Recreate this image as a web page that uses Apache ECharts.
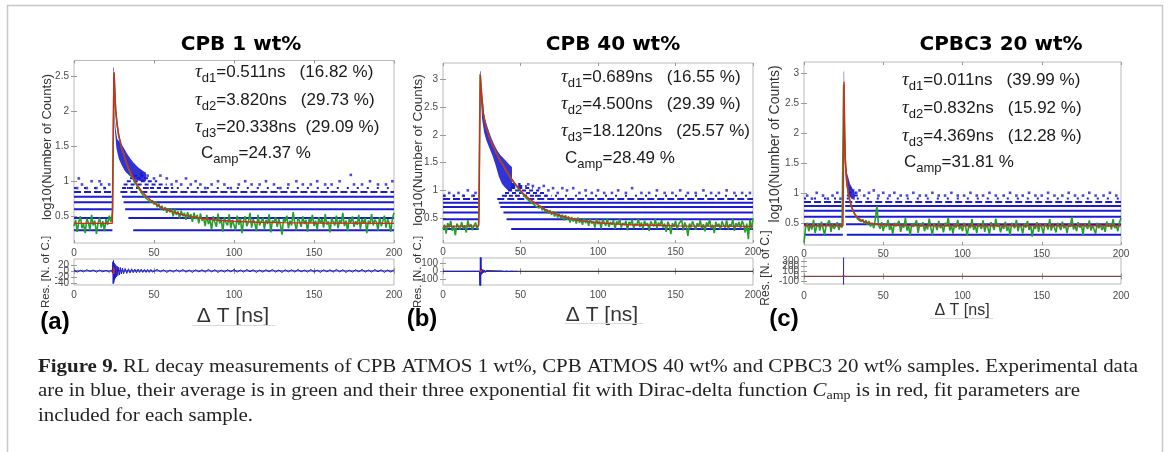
<!DOCTYPE html>
<html><head><meta charset="utf-8">
<script src="https://cdn.jsdelivr.net/npm/echarts@6/dist/echarts.min.js"></script>
<style>html,body{margin:0;padding:0;background:#fff}#c{width:1170px;height:452px}</style>
</head><body><div id="c"></div>
<script>
// ---------------- DATA ----------------
const xTicks = [0, 50, 100, 150, 200];
const yTicksA = [0.5, 1, 1.5, 2, 2.5];
const yTicksB = [0.5, 1, 1.5, 2, 2.5, 3];
const yTicksC = [0.5, 1, 1.5, 2, 2.5, 3];
const resTicksA = [-40, -20, 0, 20];
const resTicksB = [-100, 0, 100];
const resTicksC = [-100, 0, 100, 200, 300];

const titles = ['CPB 1 wt%', 'CPB 40 wt%', 'CPBC3 20 wt%'];
const panelTags = ['(a)', '(b)', '(c)'];
const tauA = ['0.511', '3.820', '20.338'], pctA = ['16.82', '29.73', '29.09'], campA = '24.37';
const tauB = ['0.689', '4.500', '18.120'], pctB = ['16.55', '29.39', '25.57'], campB = '28.49';
const tauC = ['0.011', '0.832', '4.369'], pctC = ['39.99', '15.92', '12.28'], campC = '31.81';

// green: average, one value per ns (0..200)
const greenA = [
0.36,0.45,0.28,0.42,0.50,0.33,0.39,0.26,0.47,0.41,
0.30,0.52,0.37,0.44,0.25,0.40,0.48,0.34,0.43,0.29,
0.46,0.38,0.51,0.42,0.55,2.55,2.02,1.80,1.64,1.56,
1.45,1.40,1.31,1.25,1.18,1.13,1.07,1.03,0.98,0.95,
0.91,0.88,0.84,0.83,0.78,0.80,0.74,0.76,0.70,0.73,
0.67,0.71,0.63,0.68,0.60,0.65,0.58,0.63,0.55,0.61,
0.56,0.61,0.50,0.60,0.52,0.57,0.47,0.58,0.50,0.55,
0.45,0.56,0.48,0.53,0.42,0.55,0.46,0.52,0.40,0.54,
0.44,0.47,0.36,0.52,0.39,0.45,0.31,0.50,0.42,0.35,
0.54,0.40,0.46,0.28,0.49,0.41,0.37,0.53,0.33,0.45,
0.43,0.30,0.51,0.38,0.47,0.26,0.44,0.50,0.36,0.42,
0.55,0.34,0.46,0.40,0.29,0.52,0.37,0.43,0.48,0.32,
0.45,0.39,0.53,0.27,0.44,0.41,0.49,0.35,0.46,0.38,
0.24,0.47,0.42,0.51,0.33,0.44,0.37,0.56,0.40,0.30,
0.48,0.43,0.35,0.50,0.39,0.45,0.28,0.47,0.41,0.52,
0.36,0.44,0.31,0.49,0.40,0.46,0.34,0.53,0.38,0.43,
0.27,0.48,0.42,0.37,0.51,0.33,0.45,0.40,0.55,0.36,
0.44,0.29,0.47,0.41,0.50,0.35,0.43,0.38,0.52,0.32,
0.46,0.40,0.48,0.26,0.44,0.39,0.53,0.37,0.45,0.42,
0.30,0.49,0.36,0.43,0.51,0.34,0.46,0.40,0.28,0.47,
0.55];
const greenB = [
0.30,0.38,0.22,0.41,0.33,0.45,0.27,0.36,0.19,0.40,
0.34,0.29,0.43,0.31,0.37,0.24,0.46,0.33,0.39,0.28,
0.36,0.42,0.30,0.38,3.10,2.72,2.40,2.25,2.12,2.04,
1.95,1.89,1.81,1.77,1.69,1.65,1.58,1.55,1.49,1.45,
1.39,1.36,1.30,1.27,1.21,1.19,1.13,1.11,1.05,1.04,
0.98,0.97,0.92,0.91,0.85,0.86,0.80,0.81,0.76,0.77,
0.71,0.74,0.68,0.72,0.64,0.69,0.61,0.66,0.58,0.64,
0.56,0.62,0.53,0.60,0.51,0.58,0.49,0.56,0.46,0.55,
0.47,0.53,0.42,0.52,0.44,0.50,0.40,0.51,0.42,0.47,
0.38,0.50,0.41,0.47,0.36,0.49,0.40,0.44,0.33,0.48,
0.39,0.45,0.31,0.47,0.42,0.36,0.50,0.34,0.43,0.38,
0.46,0.30,0.44,0.39,0.48,0.33,0.41,0.37,0.45,0.28,
0.43,0.38,0.47,0.32,0.40,0.36,0.49,0.34,0.42,0.30,
0.45,0.37,0.41,0.27,0.44,0.39,0.35,0.48,0.31,0.42,
0.36,0.46,0.33,0.40,0.25,0.43,0.38,0.21,0.41,0.34,
0.45,0.30,0.39,0.36,0.47,0.28,0.42,0.35,0.18,0.40,
0.33,0.44,0.37,0.29,0.41,0.35,0.46,0.31,0.39,0.26,
0.42,0.36,0.47,0.32,0.38,0.23,0.43,0.35,0.40,0.29,
0.44,0.37,0.33,0.46,0.30,0.39,0.35,0.48,0.27,0.41,
0.36,0.43,0.31,0.45,0.38,0.24,0.40,0.12,0.47,0.29,
0.50];
const greenC = [
0.17,0.42,0.50,0.36,0.47,0.39,0.55,0.33,0.44,0.49,
0.37,0.52,0.41,0.30,0.46,0.43,0.54,0.35,0.48,0.40,
0.45,0.51,0.38,0.47,0.42,2.80,1.55,1.18,0.98,0.86,
0.76,0.70,0.64,0.62,0.56,0.58,0.52,0.56,0.49,0.54,
0.47,0.53,0.44,0.50,0.41,0.56,0.78,0.46,0.40,0.51,
0.36,0.48,0.43,0.55,0.38,0.46,0.31,0.50,0.44,0.41,
0.53,0.35,0.47,0.42,0.58,0.37,0.45,0.29,0.49,0.43,
0.40,0.54,0.33,0.48,0.44,0.51,0.36,0.46,0.39,0.57,
0.42,0.30,0.49,0.45,0.38,0.53,0.41,0.47,0.34,0.50,
0.44,0.59,0.37,0.46,0.32,0.48,0.42,0.55,0.39,0.45,
0.36,0.50,0.43,0.28,0.47,0.41,0.56,0.38,0.46,0.33,
0.49,0.44,0.40,0.54,0.35,0.47,0.42,0.31,0.51,0.45,
0.38,0.57,0.43,0.48,0.34,0.46,0.40,0.52,0.37,0.44,
0.29,0.50,0.45,0.41,0.55,0.36,0.47,0.43,0.32,0.49,
0.42,0.53,0.38,0.46,0.27,0.44,0.40,0.51,0.35,0.48,
0.43,0.31,0.49,0.45,0.39,0.56,0.37,0.47,0.42,0.34,
0.50,0.44,0.38,0.52,0.41,0.46,0.33,0.48,0.43,0.60,
0.39,0.45,0.36,0.51,0.42,0.47,0.30,0.49,0.44,0.40,
0.54,0.37,0.46,0.43,0.32,0.50,0.41,0.47,0.38,0.45,
0.35,0.52,0.43,0.48,0.39,0.56,0.41,0.46,0.36,0.50,
0.58];

// red: three-exponential fit, read at [ns, value]
const redA = [[0,0.40],[23.9,0.40],[24.2,0.7],[24.6,1.8],[24.9,2.45],[25.1,2.55],[25.4,2.35],[25.8,2.12],[26.3,1.95],[27,1.80],[28,1.65],[29,1.55],[30,1.46],[31,1.39],[32,1.32],[33,1.26],[34,1.20],[35,1.15],[36,1.10],[38,1.01],[40,0.93],[42,0.87],[45,0.79],[48,0.73],[50,0.69],[55,0.62],[60,0.575],[65,0.54],[70,0.51],[80,0.47],[90,0.445],[100,0.43],[115,0.415],[130,0.41],[150,0.405],[200,0.40]];
const redB = [[0,0.35],[22.9,0.36],[23.3,0.6],[23.7,2.0],[24.1,3.08],[24.5,2.85],[25,2.68],[26,2.40],[27,2.23],[28,2.12],[29,2.03],[30,1.95],[31,1.88],[32,1.82],[34,1.70],[36,1.59],[38,1.49],[40,1.40],[42,1.31],[44,1.22],[46,1.14],[48,1.07],[50,1.00],[53,0.91],[56,0.84],[60,0.76],[65,0.67],[70,0.60],[75,0.55],[80,0.51],[85,0.475],[90,0.45],[100,0.415],[110,0.395],[120,0.38],[135,0.37],[150,0.36],[170,0.355],[200,0.35]];
const redC = [[0,0.45],[24.6,0.45],[24.9,1.2],[25.1,2.4],[25.25,2.85],[25.45,2.45],[25.7,1.95],[26,1.62],[26.4,1.40],[27,1.22],[27.6,1.07],[28.3,0.95],[29,0.86],[30,0.77],[31,0.70],[32.5,0.63],[34,0.585],[36,0.545],[38,0.52],[41,0.495],[45,0.475],[50,0.465],[60,0.455],[80,0.45],[200,0.45]];

// blue: quantised counts (log10 of 2..7), dense runs [from, to, level]
const solidA = [[0,24,0.301],[0,24,0.477],[0,24,0.602],[0,24,0.699],[0,24,0.778],[37,200,0.301],[34,200,0.477],[32,200,0.602],[31,200,0.699],[30,200,0.778]];
const dashA = [[0,24,0.845],[29,200,0.845]];
const sparseA = [[0,24,0.903],[33,200,0.903]];
const highA = [[30,62,0.903],[31,58,0.954],[33,52,1.0],[35,47,1.041],[37,44,1.079]];
const solidB = [[0,23,0.301],[0,23,0.477],[0,23,0.602],[0,23,0.699],[0,23,0.778],[44,200,0.301],[41,200,0.477],[39,200,0.602],[37,200,0.699],[36,200,0.778]];
const dashB = [[0,23,0.845],[35,200,0.845]];
const sparseB = [[0,23,0.903],[40,200,0.903]];
const highB = [[38,70,0.903],[40,66,0.954],[42,62,1.0],[44,58,1.041],[44,54,1.079],[44,50,1.114]];
const solidC = [[0,24.5,0.301],[0,24.5,0.477],[0,24.5,0.602],[0,24.5,0.699],[0,24.5,0.778],[27,200,0.301],[26.5,200,0.477],[26,200,0.602],[26,200,0.699],[26,200,0.778]];
const dashC = [[0,24.5,0.845],[26,200,0.845]];
const sparseC = [[0,24.5,0.903],[27,200,0.903]];
const highC = [[27,36,0.954],[27.5,33,1.0]];

// blue: isolated high counts [ns, value]
const dotsA = [[2,0.903],[5,0.954],[8,0.903],[11,1.0],[14,0.903],[17,0.954],[19,0.903],[22,0.954],[3,1.04],[16,1.0],[42,1.11],[46,1.08],[50,1.04],[54,1.08],[58,1.04],[61,0.954],[64,1.0],[67,0.954],[70,1.04],[73,0.954],[76,1.0],[79,0.954],[82,0.903],[86,0.954],[90,1.0],[94,0.954],[98,0.903],[103,0.954],[107,1.0],[111,0.954],[116,0.954],[120,1.0],[125,0.954],[129,0.903],[134,0.954],[139,1.0],[143,0.954],[148,0.954],[152,1.0],[157,0.954],[161,0.954],[166,1.0],[173,1.09],[175,0.954],[180,0.954],[185,1.0],[190,0.954],[195,0.954],[199,1.0]];
const dotsB = [[1,0.903],[4,0.954],[7,0.903],[10,0.954],[13,0.903],[16,1.0],[19,0.903],[21,0.954],[55,1.11],[58,1.08],[62,1.04],[65,1.08],[68,1.0],[71,1.04],[74,0.954],[77,1.04],[80,1.0],[84,1.04],[88,0.954],[92,1.0],[96,0.954],[100,1.0],[104,0.954],[109,0.954],[113,1.0],[118,0.954],[122,1.04],[128,0.954],[133,0.954],[138,1.0],[143,0.954],[148,0.954],[153,1.0],[158,0.954],[163,0.954],[168,1.0],[173,0.954],[178,0.954],[183,1.0],[188,0.954],[193,0.954],[198,0.954]];
const dotsC = [[2,0.954],[5,0.903],[8,1.0],[12,0.954],[15,0.903],[18,0.954],[21,1.0],[23,0.903],[29,1.08],[31,1.04],[33,1.0],[35,1.04],[38,0.954],[41,1.0],[44,1.04],[47,0.954],[50,1.0],[54,0.954],[57,1.0],[61,0.954],[65,0.954],[69,1.0],[73,0.954],[77,0.954],[81,1.0],[85,0.954],[89,0.954],[93,1.0],[97,0.954],[101,0.954],[105,1.0],[109,0.954],[113,0.954],[117,1.0],[121,0.954],[126,0.954],[130,1.0],[134,0.954],[138,0.954],[142,1.0],[146,0.954],[150,0.954],[154,1.0],[158,0.954],[163,0.954],[167,1.0],[171,0.954],[176,0.954],[180,1.0],[184,0.954],[189,0.954],[193,1.0],[197,0.954]];

// blue: outline of the dense cloud just after the peak [ns, value]
const cloudA = [[24.6,2.62],[25.0,2.62],[25.3,2.0],[26,1.75],[27,1.6],[29,1.55],[31,1.48],[33,1.40],[35,1.33],[37,1.27],[40,1.20],[43,1.15],[45,1.12],[45,1.0],[42,1.0],[38,1.02],[35,1.07],[32,1.14],[30,1.22],[28,1.32],[26.5,1.47],[25.5,1.75],[24.8,2.3]];
const cloudB = [[23.9,3.15],[24.3,3.15],[24.8,2.8],[25.5,2.5],[27,2.3],[29,2.12],[31,1.96],[33,1.83],[35,1.72],[37,1.64],[39,1.58],[41,1.52],[43,1.46],[44.5,1.42],[44.5,1.0],[42,1.0],[40,1.05],[38,1.12],[36,1.25],[34,1.45],[32,1.62],[30,1.76],[28,1.9],[26.5,2.05],[25.2,2.3],[24.4,2.7]];
const cloudC = [[25.0,3.02],[25.3,3.02],[25.6,2.3],[26,1.7],[26.5,1.45],[27.2,1.32],[28,1.25],[29,1.15],[30,1.10],[31,1.05],[32,1.0],[32,0.88],[30,0.9],[28.5,0.95],[27.5,1.02],[26.5,1.15],[25.8,1.5],[25.4,2.0],[25.1,2.6]];

// residuals
const resAPre = [3,-4,2,-3,4,-2,3,-4,3,-3,2,-4];            // ns 0..22 step 2
const resASpike = [[23.6,3],[24.0,-6],[24.3,30],[24.5,-42],[24.7,34],[24.9,-38],[25.1,26],[25.3,-30],[25.6,22],[25.9,-24],[26.2,18],[26.6,-19],[27.0,15],[27.4,-15],[27.9,12],[28.4,-13],[29,11],[29.6,-10],[30.3,9],[31,-9],[32,8],[33,-8],[34,7],[35,-7],[36,7],[37,-6],[38,6],[39,-6],[40,6],[41,-5],[42,6],[43,-5],[44,5],[45,-5],[46,5],[47,-5],[48,5],[49,-4]];
const resATail = [-4,5,-3,4,-5,3,-4,4,-3,5,-4,3,-5,4,-3,4,-4,5,-3,4,-5,3,-4,4,-3,5,-4,3,-4,5,-3,4,-5,3,-4,4,-3,5,-4,3,-5,4,-3,4,-4,5,-3,3,-4,5,-4,3,-5,4,-3,4,-4,5,-3,4,-5,3,-4,4,-3,5,-4,3,-4,5,-3,4,-5,3,-4,4]; // ns 50..200 step 2
const resB = [[0,0],[23.5,0],[23.9,-300],[24.1,300],[24.3,-300],[24.5,300],[24.7,-40],[25,30],[25.4,-28],[25.8,22],[26.3,-20],[26.8,16],[27.4,-14],[28,12],[28.8,-10],[29.6,9],[30.5,-8],[31.5,8],[32.5,-7],[33.5,6],[34.5,-6],[35.5,5],[36.5,-5],[38,4],[39.5,-4],[41,3],[42.5,-3],[44,2],[46,-2],[48,0]];
const resC = [[24.95,-300],[25.0,600]];
const resRedA = [[24.6,-10],[24.8,12],[25.0,-8],[25.2,6]];
const resRedB = [[24.1,-12],[24.4,14],[24.7,-10],[25.0,8]];
const resRedC = [[24.9,-15],[25.05,20],[25.2,-10]];
const zeroLine = [[0,0],[200,0]];

// ---------------- STYLE / LAYOUT ----------------
const SANS = '"Liberation Sans", Arial, Helvetica, sans-serif';
const SERIF = '"Liberation Serif", "Times New Roman", serif';
const BLUE = '#1c1cd2', GREEN = '#22a02a', RED = '#d8281e';
const BOX = '#b9b9b9', TICK = '#9a9a9a', TLBL = '#4a4a4a';

const gridsPx = [
  {left:74, top:60.5, width:320, height:182.5},
  {left:74, top:259, width:320, height:26},
  {left:443, top:63, width:310, height:180},
  {left:443, top:258, width:310, height:27},
  {left:804, top:62, width:317, height:183},
  {left:804, top:258, width:317, height:26}
];
const yRanges = [[0.12,2.72],[-46,39],[0.05,3.3],[-175,170],[0.13,3.18],[-150,360]];
const yTickSets = [yTicksA, resTicksA, yTicksB, resTicksB, yTicksC, resTicksC];
const xLabelMargin = [5,5,4.5,5,4,7];
const isRes = [false,true,false,true,false,true];

const grid = gridsPx.map(g => Object.assign({show:true, borderColor:BOX, borderWidth:1, backgroundColor:'#fff', containLabel:false, outerBoundsMode:'none'}, g));
const xAxis = [], yAxis = [], yExtra = [];
const lblCommon = {fontSize:10, color:TLBL, fontFamily:SANS, hideOverlap:false, showMinLabel:true, showMaxLabel:true, interval:0};
gridsPx.forEach((g, gi) => {
  const tick = {show:true, inside:true, length:3, lineStyle:{color:TICK, width:1}};
  xAxis.push({gridIndex:gi, type:'value', min:0, max:200, position:'bottom',
    axisLine:{show:false}, splitLine:{show:false},
    axisTick:Object.assign({customValues:xTicks}, tick),
    axisLabel:Object.assign({customValues:xTicks, margin:xLabelMargin[gi]}, lblCommon)});
  xAxis.push({gridIndex:gi, type:'value', min:0, max:200, position:'top',
    axisLine:{show:false}, splitLine:{show:false},
    axisTick:Object.assign({customValues:xTicks}, tick), axisLabel:{show:false}});
  yAxis.push({gridIndex:gi, type:'value', min:yRanges[gi][0], max:yRanges[gi][1], position:'left',
    axisLine:{show:false}, splitLine:{show:false},
    axisTick:Object.assign({customValues:yTickSets[gi]}, tick),
    axisLabel: isRes[gi] ? {show:false} : Object.assign({customValues:yTickSets[gi], margin:5}, lblCommon)});
  yAxis.push({gridIndex:gi, type:'value', min:yRanges[gi][0], max:yRanges[gi][1], position:'right',
    axisLine:{show:false}, splitLine:{show:false},
    axisTick:Object.assign({customValues:yTickSets[gi]}, tick), axisLabel:{show:false}});
  if (isRes[gi]) {
    // residual tick labels sit very close together: one label-only axis per value so none is dropped
    yTickSets[gi].forEach(v => yExtra.push({gridIndex:gi, type:'value', min:yRanges[gi][0], max:yRanges[gi][1], position:'left',
      axisLine:{show:false}, splitLine:{show:false}, axisTick:{show:false},
      axisLabel:Object.assign({customValues:[v], margin:5}, lblCommon)}));
  }
});
const yAxisAll = yAxis.concat(yExtra);

function segData(segs){ const d=[]; segs.forEach(s=>{ d.push([s[0],s[2]],[s[1],s[2]],[s[1],'-']); }); return d; }
function polyRender(points){
  return function(params, api){
    if (params.dataIndex !== 0) return null;
    return {type:'polygon', shape:{points: points.map(p => api.coord(p))}, style:{fill:BLUE, opacity:0.9}};
  };
}
const series = [];
function line(gi, data, color, width, extra){
  series.push(Object.assign({type:'line', xAxisIndex:2*gi, yAxisIndex:2*gi, data, symbol:'none', showSymbol:false,
    connectNulls:false, animation:false, silent:true, lineStyle:{color, width}}, extra||{}));
}
const mains = [
  {gi:0, green:greenA, red:redA, solid:solidA, dash:dashA, sparse:sparseA, high:highA, dots:dotsA, cloud:cloudA},
  {gi:2, green:greenB, red:redB, solid:solidB, dash:dashB, sparse:sparseB, high:highB, dots:dotsB, cloud:cloudB},
  {gi:4, green:greenC, red:redC, solid:solidC, dash:dashC, sparse:sparseC, high:highC, dots:dotsC, cloud:cloudC}
];
mains.forEach(p => {
  series.push({type:'custom', xAxisIndex:2*p.gi, yAxisIndex:2*p.gi, data:p.cloud, renderItem:polyRender(p.cloud), silent:true, animation:false});
  line(p.gi, segData(p.solid), BLUE, 2);
  line(p.gi, segData(p.dash), BLUE, 2, {lineStyle:{color:BLUE, width:2, type:[7,3]}});
  line(p.gi, segData(p.sparse), BLUE, 2, {lineStyle:{color:BLUE, width:2, type:[2,8]}});
  line(p.gi, segData(p.high), BLUE, 2, {lineStyle:{color:BLUE, width:2, type:[4,3]}});
  series.push({type:'scatter', xAxisIndex:2*p.gi, yAxisIndex:2*p.gi, data:p.dots, symbol:'rect', symbolSize:2.6, itemStyle:{color:BLUE}, silent:true, animation:false});
  line(p.gi, p.green.map((v,i)=>[i,v]), GREEN, 1.6);
  line(p.gi, p.red, RED, 1.4);
});
// residual panels
const resAData = resAPre.map((v,i)=>[2*i,v]).concat(resASpike).concat(resATail.map((v,i)=>[50+2*i,v]));
line(1, zeroLine, '#1a1a80', 1);
line(1, resAData, BLUE, 1);
line(1, resRedA, RED, 1.5);
line(3, zeroLine, '#111', 1);
line(3, resB, BLUE, 1);
line(3, resRedB, RED, 2);
line(5, zeroLine, '#7a4848', 1.2);
line(5, resC, BLUE, 1);
line(5, resRedC, RED, 2.5);

// ---------------- TEXT ----------------
const TXT = '#1a1a1a';
const annRich = {
  t:{fontFamily:SERIF, fontStyle:'italic', fontSize:19, fill:TXT},
  s:{fontFamily:SANS, fontSize:13, fill:TXT, padding:[13,0,0,0]},
  m:{fontFamily:SANS, fontSize:17, fill:TXT}
};
function annBlock(x, cx, ys, tau, pct, camp, gaps){
  const els = [];
  for (let i=0;i<3;i++){
    els.push({type:'text', x, y:ys[i], z:100, style:{text:'{t|τ}{s|d'+(i+1)+'}{m|='+tau[i]+'ns'+gaps[i]+'('+pct[i]+' %)}', rich:annRich, align:'left', verticalAlign:'middle'}});
  }
  els.push({type:'text', x:cx, y:ys[3], z:100, style:{text:'{m|C}{s|amp}{m|='+camp+' %}', rich:annRich, align:'left', verticalAlign:'middle'}});
  return els;
}
const graphic = [];
// figure frame
[[7,5.5,1162.5,5.5],[7.5,5,7.5,452],[1162.5,5,1162.5,452]].forEach(l=>graphic.push({type:'line', shape:{x1:l[0],y1:l[1],x2:l[2],y2:l[3]}, style:{stroke:'#c6c6c6', lineWidth:1.5}, silent:true}));
// titles
[[241,45],[613,45],[1001,45]].forEach((p,i)=>graphic.push({type:'text', x:p[0], y:p[1], style:{text:titles[i], font:'bold 20px "DejaVu Sans", sans-serif', fill:'#000', align:'center', verticalAlign:'middle'}}));
// fit annotations
graphic.push(...annBlock(195,201,[72,100,127,153], tauA, pctA, campA, ['   ','   ','  ']));
graphic.push(...annBlock(561,565,[77,104,131,158], tauB, pctB, campB, ['   ','   ','   ']));
graphic.push(...annBlock(902,904,[80,108,136,162], tauC, pctC, campC, ['   ','   ','   ']));
// axis names
const ylab = [[47,147,13],[418,150,13.5],[775,144,14]];
ylab.forEach(p=>graphic.push({type:'text', x:p[0], y:p[1], rotation:Math.PI/2, style:{text:'log10(Number of Counts)', font:p[2]+'px '+SANS, fill:'#333', align:'center', verticalAlign:'middle'}}));
const rlab = [[46,272,11.5],[418,272,11.5],[766,268,12]];
rlab.forEach(p=>graphic.push({type:'text', x:p[0], y:p[1], rotation:Math.PI/2, style:{text:'Res. [N. of C.]', font:p[2]+'px '+SANS, fill:'#333', align:'center', verticalAlign:'middle'}}));
const xlab = [[233,316,21],[602,315,21],[962,311,16]];
xlab.forEach(p=>graphic.push({type:'text', x:p[0], y:p[1], style:{text:'Δ T [ns]', font:p[2]+'px '+SANS, fill:'#333', align:'center', verticalAlign:'middle'}}));
[[192,275,325.5],[565,643,323.5],[930,993,318.5]].forEach(l=>graphic.push({type:'line', shape:{x1:l[0],y1:l[2],x2:l[1],y2:l[2]}, style:{stroke:'#dadada', lineWidth:1}, silent:true}));
// panel tags
[[55,322],[422,319],[784,319]].forEach((p,i)=>graphic.push({type:'text', x:p[0], y:p[1], style:{text:panelTags[i], font:'bold 24px '+SANS, fill:'#000', align:'center', verticalAlign:'middle'}}));
// caption
const cap1b = 'Figure 9.', cap1 = ' RL decay measurements of CPB ATMOS 1 wt%, CPB ATMOS 40 wt% and CPBC3 20 wt% samples. Experimental data';
const cap2a = 'are in blue, their average is in green and their three exponential fit with Dirac-delta function ', cap2b = ' is in red, fit parameters are';
const cap3 = 'included for each sample.';
const mctx = document.createElement('canvas').getContext('2d');
mctx.font = 'bold 18px "Liberation Serif"'; const wb = mctx.measureText(cap1b).width;
mctx.font = '18px "Liberation Serif"'; const wr = mctx.measureText(cap1).width;
const capScale = 1100 / (wb + wr);
const capRich = {b:{fontFamily:SERIF, fontWeight:'bold', fontSize:18, fill:'#231f20'}, r:{fontFamily:SERIF, fontSize:18, fill:'#231f20'}, i:{fontFamily:SERIF, fontStyle:'italic', fontSize:18, fill:'#231f20'}, s:{fontFamily:SERIF, fontSize:12, fill:'#231f20', padding:[9,0,0,0]}};
graphic.push({type:'text', x:38, y:367, scaleX:capScale, style:{text:'{b|'+cap1b+'}{r|'+cap1+'}', rich:capRich, align:'left', verticalAlign:'middle'}});
graphic.push({type:'text', x:38, y:391, scaleX:capScale, style:{text:'{r|'+cap2a+'}{i|C}{s|amp}{r|'+cap2b+'}', rich:capRich, align:'left', verticalAlign:'middle'}});
graphic.push({type:'text', x:38, y:416, scaleX:capScale, style:{text:'{r|'+cap3+'}', rich:capRich, align:'left', verticalAlign:'middle'}});

const chart = echarts.init(document.getElementById('c'), null, {renderer:'canvas'});
chart.setOption({backgroundColor:'#fff', animation:false, grid, xAxis, yAxis:yAxisAll, series, graphic});
</script></body></html>
